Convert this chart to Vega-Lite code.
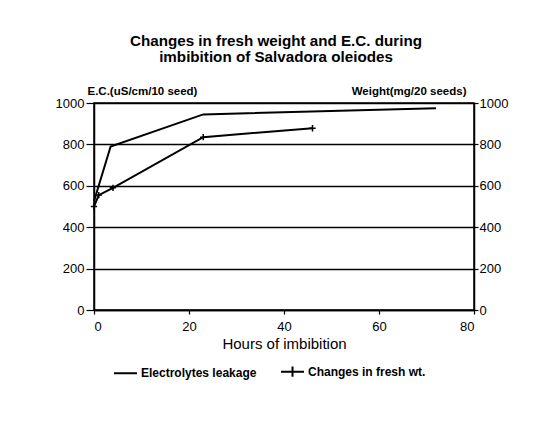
{
  "$schema": "https://vega.github.io/schema/vega-lite/v6.json",
  "width": 380,
  "height": 207,
  "autosize": {"type": "none"},
  "padding": {"left": 94, "top": 103, "right": 72, "bottom": 118},
  "background": "white",
  "config": {
    "font": "Liberation Sans",
    "view": {"stroke": "black", "strokeWidth": 1.5},
    "axis": {
      "domainColor": "black", "domainWidth": 1.5,
      "tickColor": "black", "tickWidth": 1.2,
      "gridColor": "black", "gridOpacity": 1, "gridWidth": 1.3,
      "labelColor": "black", "labelFontSize": 13, "labelFont": "Liberation Sans",
      "titleColor": "black", "titleFont": "Liberation Sans"
    }
  },
  "title": {
    "text": ["Changes in fresh weight and E.C. during", "imbibition of Salvadora oleiodes"],
    "font": "Liberation Sans",
    "fontSize": 15.2,
    "fontWeight": "bold",
    "lineHeight": 16,
    "color": "black",
    "dx": -8,
    "offset": 20
  },
  "data": {
    "values": [
      {"series": "Electrolytes leakage", "hours": 0, "value": 525},
      {"series": "Electrolytes leakage", "hours": 3.5, "value": 790},
      {"series": "Electrolytes leakage", "hours": 23, "value": 945},
      {"series": "Electrolytes leakage", "hours": 72, "value": 975},
      {"series": "Changes in fresh wt.", "hours": 0, "value": 500},
      {"series": "Changes in fresh wt.", "hours": 1, "value": 555},
      {"series": "Changes in fresh wt.", "hours": 4, "value": 590},
      {"series": "Changes in fresh wt.", "hours": 23, "value": 835},
      {"series": "Changes in fresh wt.", "hours": 46, "value": 878}
    ]
  },
  "layer": [
    {
      "mark": {"type": "line", "strokeWidth": 2},
      "encoding": {
        "x": {
          "field": "hours", "type": "quantitative",
          "scale": {"domain": [0, 80], "nice": false},
          "axis": {
            "values": [0, 20, 40, 60, 80], "grid": false, "format": "d",
            "tickSize": 4, "labelPadding": 6,
            "title": "Hours of imbibition", "titleFontSize": 15, "titleFontWeight": "normal", "titlePadding": 3
          }
        },
        "y": {
          "field": "value", "type": "quantitative",
          "scale": {"domain": [0, 1000], "nice": false},
          "axis": {
            "values": [0, 200, 400, 600, 800, 1000], "grid": true, "format": "d",
            "tickSize": 8, "labelPadding": 2,
            "title": "E.C.(uS/cm/10 seed)", "titleAngle": 0, "titleAlign": "left", "titleBaseline": "bottom",
            "titleX": -7, "titleY": -7, "titleFontSize": 11.5, "titleFontWeight": "bold"
          }
        },
        "color": {
          "field": "series", "type": "nominal",
          "scale": {"domain": ["Electrolytes leakage", "Changes in fresh wt."], "range": ["black", "black"]},
          "legend": {
            "orient": "none", "legendX": 19, "legendY": 256,
            "direction": "horizontal", "title": null,
            "symbolType": "stroke", "symbolSize": 529, "symbolStrokeWidth": 2,
            "labelFontSize": 12, "labelFontWeight": "bold", "labelColor": "black", "labelOffset": 3,
            "columnPadding": 20,
            "encode": {
              "symbols": {
                "update": {
                  "shape": {"signal": "datum.value == 'Changes in fresh wt.' ? 'M-1,0H1M0,-0.45V0.45' : 'M-1,0H1'"}
                }
              }
            }
          }
        }
      }
    },
    {
      "transform": [{"filter": "datum.series == 'Changes in fresh wt.'"}],
      "mark": {"type": "point", "shape": "M-1,0H1M0,-1V1", "size": 40, "filled": false, "stroke": "black", "strokeWidth": 1.5, "opacity": 1},
      "encoding": {
        "x": {"field": "hours", "type": "quantitative", "scale": {"domain": [0, 80], "nice": false}},
        "y": {
          "field": "value", "type": "quantitative",
          "scale": {"domain": [0, 1000], "nice": false},
          "axis": {
            "orient": "right", "values": [0, 200, 400, 600, 800, 1000], "grid": false, "format": "d",
            "tickSize": 4, "labelPadding": 1,
            "title": "Weight(mg/20 seeds)", "titleAngle": 0, "titleAlign": "right", "titleBaseline": "bottom",
            "titleX": -8, "titleY": -7, "titleFontSize": 11.5, "titleFontWeight": "bold"
          }
        }
      }
    }
  ],
  "resolve": {"scale": {"y": "independent"}}
}
